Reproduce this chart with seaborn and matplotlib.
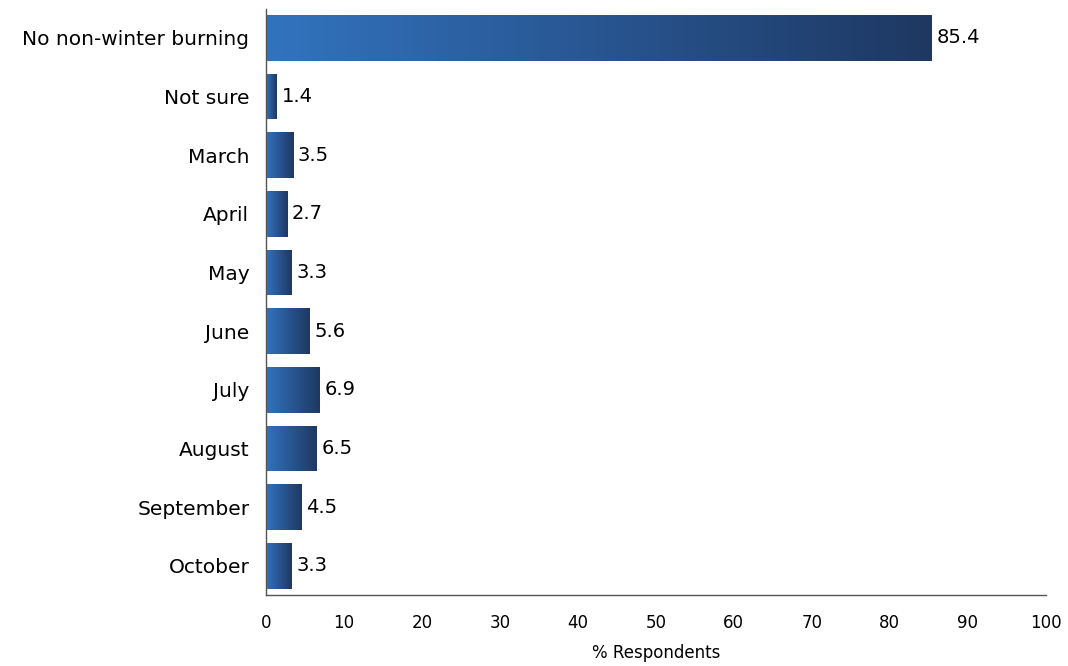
import numpy as np
import pandas as pd
import matplotlib
matplotlib.use("Agg")
import matplotlib.pyplot as plt
import seaborn as sns
from matplotlib.colors import LinearSegmentedColormap

categories = ["No non-winter burning", "Not sure", "March", "April", "May",
              "June", "July", "August", "September", "October"]
values = [85.4, 1.4, 3.5, 2.7, 3.3, 5.6, 6.9, 6.5, 4.5, 3.3]
xticks = [0, 10, 20, 30, 40, 50, 60, 70, 80, 90, 100]

sns.set_theme(style="white")
plt.rcParams['font.family'] = ['DejaVu Sans']

df = pd.DataFrame({"cat": categories, "val": values})
fig = plt.figure(figsize=(10.68, 6.66), dpi=100)
ax = fig.add_axes([0.249, 0.1066, 0.730, 0.8804])
sns.barplot(data=df, x="val", y="cat", orient="h", ax=ax, width=0.78,
            color="#2f6bb0", saturation=1)

cmap = LinearSegmentedColormap.from_list("g", ["#3273bf", "#1e3862"])
grad = np.linspace(0, 1, 256).reshape(1, -1)
for p in list(ax.patches):
    x0, y0 = p.get_x(), p.get_y()
    w, h = p.get_width(), p.get_height()
    im = ax.imshow(grad, cmap=cmap, aspect="auto",
                   extent=[x0, x0 + w, y0 + h, y0], zorder=2)
    im.set_clip_path(p)
    p.set_facecolor("none")
    p.set_edgecolor("none")

for i, v in enumerate(values):
    ax.text(v + 0.6, i, f"{v}", va="center", ha="left", fontsize=14, color="#000000")

ax.set_xlim(0, 100)
ax.set_ylim(9.5, -0.5)
ax.set_xticks(xticks)
ax.set_xticklabels([str(t) for t in xticks], fontsize=12, color="#000000")
ax.set_yticks(range(len(categories)))
ax.set_yticklabels(categories, fontsize=14.5, color="#000000")
ax.tick_params(axis="y", length=0, pad=12)
ax.tick_params(axis="x", length=0, pad=14)
ax.set_xlabel("% Respondents", fontsize=12, labelpad=8, color="#000000")
ax.set_ylabel("")
for s in ["top", "right"]:
    ax.spines[s].set_visible(False)
for s in ["left", "bottom"]:
    ax.spines[s].set_color("#555555")
    ax.spines[s].set_linewidth(1.0)

fig.savefig("out.png", dpi=100)
